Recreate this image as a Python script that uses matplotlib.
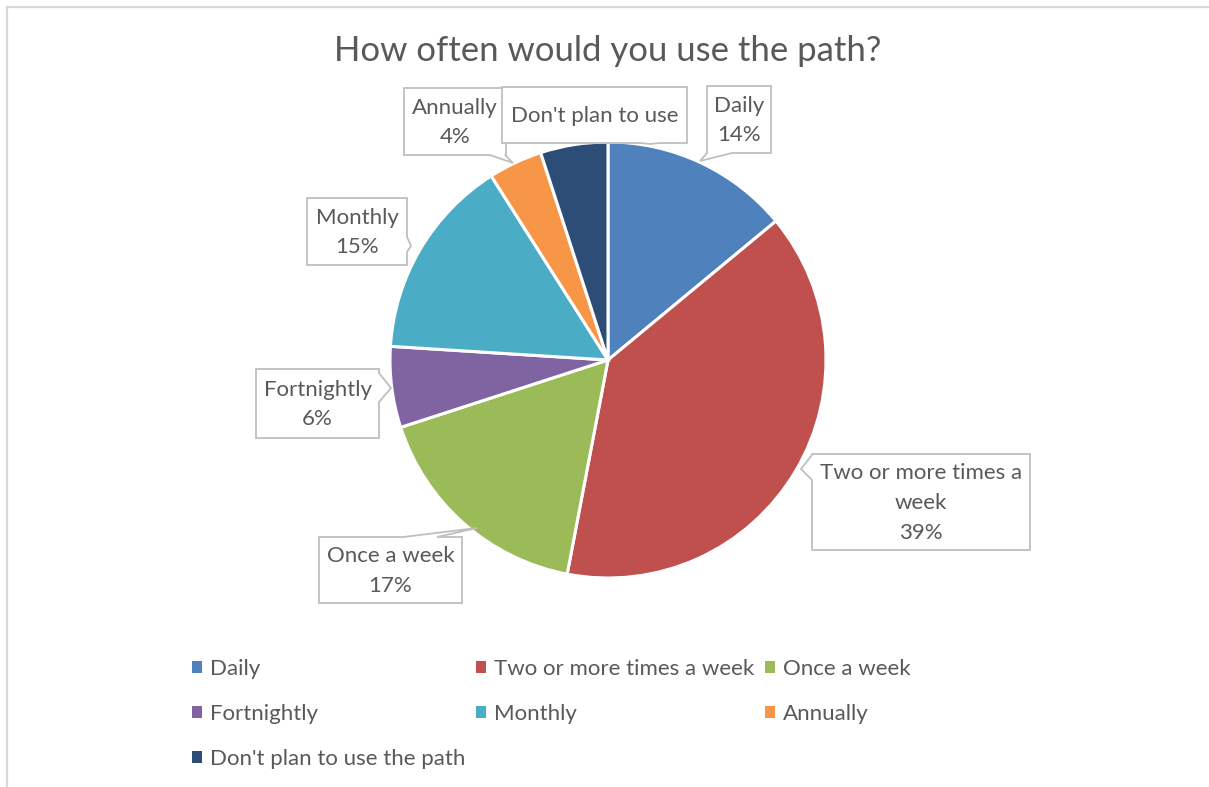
import matplotlib.pyplot as plt
from matplotlib.patches import Polygon
from matplotlib.lines import Line2D

# survey answers
categories = ['Daily', 'Two or more times a week', 'Once a week', 'Fortnightly',
              'Monthly', 'Annually', "Don't plan to use the path"]
shares = [14, 39, 17, 6, 15, 4, 5]
colors = ['#4F81BD', '#C0504D', '#9BBB59', '#8064A2', '#4BACC6', '#F79646', '#2C4D75']

W, H = 1209, 787
TXT = '#595959'
FONT = 'Lato'

fig = plt.figure(figsize=(W / 100, H / 100), dpi=100)
ax = fig.add_axes([0, 0, 1, 1])


def py(y):
    # pixel row (top origin) -> data y
    return H - y


wedges, _ = ax.pie(shares, colors=colors, startangle=90, counterclock=False,
                   center=(608, py(360)), radius=218,
                   wedgeprops=dict(edgecolor='white', linewidth=2.2))
ax.set_xlim(0, W)
ax.set_ylim(0, H)
ax.set_axis_off()

# chart frame (only top and left edges are visible)
ax.add_line(Line2D([7, W], [py(7), py(7)], color='#D9D9D9', lw=1.6))
ax.add_line(Line2D([7, 7], [py(7), 0], color='#D9D9D9', lw=1.6))

ax.text(608, py(51), 'How often would you use the path?', ha='center', va='center',
        fontsize=25, color=TXT, family=FONT)


def callout(box, side, base, tip, text, z=5):
    x0, y0, x1, y1 = box
    a, b = base
    pts = [(x0, y0)]
    if side == 'top':
        pts += [(a, y0), tip, (b, y0)]
    pts += [(x1, y0)]
    if side == 'right':
        pts += [(x1, a), tip, (x1, b)]
    pts += [(x1, y1)]
    if side == 'bottom':
        pts += [(b, y1), tip, (a, y1)]
    pts += [(x0, y1)]
    if side == 'left':
        pts += [(x0, b), tip, (x0, a)]
    poly = Polygon([(x, py(y)) for x, y in pts], closed=True, facecolor='white',
                   edgecolor='#BFBFBF', lw=1.3, zorder=z)
    ax.add_patch(poly)
    ax.text((x0 + x1) / 2, py((y0 + y1) / 2 + 1), text, ha='center', va='center',
            fontsize=16, color=TXT, family=FONT, linespacing=1.62, zorder=z + 0.5)


lbl = [f'{c}\n{s}%' for c, s in zip(categories, shares)]
callout((707, 86, 771, 153), 'bottom', (707, 732), (700, 161), lbl[0])
callout((812, 454, 1030, 550), 'left', (455, 480), (801, 469),
        'Two or more times a\nweek\n' + f'{shares[1]}%')
callout((319, 537, 462, 603), 'top', (403, 437), (477, 528), lbl[2])
callout((256, 369, 379, 438), 'right', (373, 402), (391, 388), lbl[3])
callout((307, 198, 407, 265), 'right', (237, 252), (411, 246), lbl[4])
callout((404, 88, 506, 155), 'bottom', (490, 505), (513, 163), lbl[5], z=5)
callout((502, 87, 687, 143), 'bottom', (640, 660), (650, 144), "Don't plan to use", z=7)

# legend, filled row by row
order = [0, 3, 6, 1, 4, 2, 5]
leg = ax.legend([wedges[i] for i in order], [categories[i] for i in order],
                ncol=3, loc='upper left', bbox_to_anchor=(192 / W, 1 - 659 / H),
                frameon=False, borderpad=0, borderaxespad=0,
                handlelength=0.45, handleheight=0.45,
                handletextpad=0.38, columnspacing=0.45, labelspacing=1.12,
                prop=dict(family=FONT, size=16))
for t in leg.get_texts():
    t.set_color(TXT)
for h in leg.legend_handles:
    h.set_linewidth(0)

fig.savefig('out.png', dpi=100)
